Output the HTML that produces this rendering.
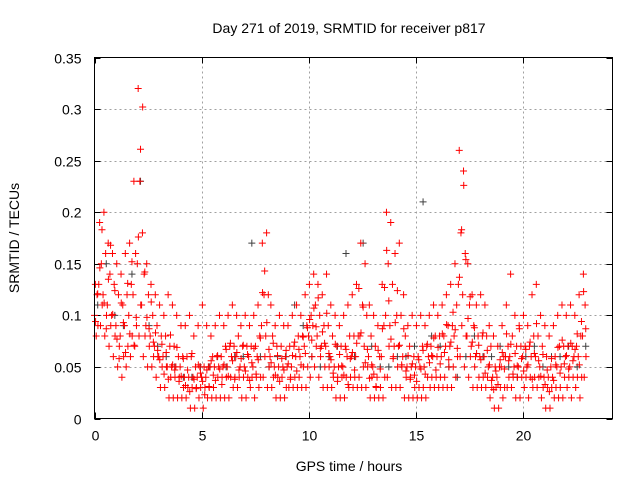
<!DOCTYPE html>
<html><head><meta charset="utf-8"><style>
body{margin:0;background:#fff}
svg{display:block;font-family:"Liberation Sans",sans-serif}
</style></head><body>
<svg id="chart" width="640" height="480">
<text x="349" y="33" text-anchor="middle" font-size="14">Day 271 of 2019, SRMTID for receiver p817</text>
<text x="349" y="471" text-anchor="middle" font-size="14">GPS time / hours</text>
<text transform="translate(19,238) rotate(-90)" text-anchor="middle" font-size="14">SRMTID / TECUs</text>
<g id="grid"></g>
<g id="ticks"></g>
<g id="black"></g>
<g id="red"></g>
<rect x="94.5" y="57.5" width="518" height="361" fill="none" stroke="#000"/>
</svg>
<script>
const xTicks=[0,5,10,15,20];
const yTicks=[0,0.05,0.1,0.15,0.2,0.25,0.3,0.35];
const yTickLabels=["0","0.05","0.1","0.15","0.2","0.25","0.3","0.35"];
// red series: groups every 0.2 h, 5 samples each at 0.04 h spacing
const redStep=0.04;
const redTecu=[
.10,.13,.08,.12,.09, .13,.19,.09,.15,.11, .12,.20,.08,.16,.10, .11,.17,.07,.14,.09, .10,.16,.06,.13,.08,
.09,.15,.05,.12,.07, .08,.14,.04,.11,.06, .09,.16,.05,.12,.07, .10,.17,.06,.13,.08, .12,.23,.07,.16,.09,
.15,.32,.08,.23,.11, .11,.18,.06,.14,.08, .09,.15,.05,.12,.07, .08,.13,.05,.10,.06, .07,.12,.04,.09,.06,
.06,.11,.03,.08,.05, .06,.10,.03,.08,.05, .05,.12,.02,.07,.04, .05,.11,.02,.07,.04, .05,.10,.02,.06,.04,
.05,.09,.02,.06,.03, .04,.09,.02,.06,.03, .04,.10,.01,.06,.03, .04,.08,.01,.05,.03, .04,.09,.02,.05,.03,
.04,.11,.01,.05,.03, .04,.09,.02,.05,.03, .05,.08,.02,.06,.03, .05,.09,.02,.06,.04, .05,.10,.02,.06,.04,
.05,.09,.02,.07,.04, .05,.10,.02,.07,.04, .06,.11,.03,.07,.04, .06,.10,.03,.08,.04, .05,.09,.02,.07,.04,
.05,.10,.02,.07,.04, .06,.09,.03,.07,.04, .05,.10,.02,.07,.04, .06,.11,.03,.08,.04, .09,.17,.04,.12,.06,
.08,.18,.03,.12,.05, .06,.11,.03,.08,.04, .05,.09,.02,.07,.04, .05,.10,.02,.07,.04, .05,.09,.02,.06,.03,
.05,.09,.03,.07,.04, .05,.10,.03,.07,.04, .06,.11,.03,.08,.04, .06,.10,.03,.08,.05, .07,.12,.03,.09,.05,
.08,.13,.04,.10,.06, .09,.14,.05,.11,.07, .08,.13,.04,.10,.06, .07,.12,.03,.09,.05, .07,.14,.03,.09,.05,
.06,.11,.03,.08,.04, .05,.10,.02,.07,.04, .05,.09,.02,.07,.04, .05,.10,.02,.07,.04, .06,.11,.03,.08,.04,
.06,.12,.03,.08,.04, .06,.13,.03,.08,.04, .08,.17,.03,.11,.05, .07,.15,.03,.10,.05, .06,.11,.02,.08,.04,
.05,.10,.02,.07,.03, .04,.09,.02,.06,.03, .06,.13,.02,.09,.04, .10,.20,.04,.15,.07, .09,.19,.03,.13,.06,
.07,.16,.03,.10,.05, .07,.17,.03,.10,.05, .06,.12,.02,.08,.04, .05,.09,.02,.07,.04, .05,.10,.02,.06,.03,
.05,.09,.02,.06,.03, .05,.10,.02,.07,.03, .05,.09,.02,.07,.04, .06,.10,.03,.07,.04, .06,.11,.03,.08,.04,
.06,.10,.03,.08,.04, .06,.11,.03,.08,.04, .07,.12,.03,.09,.05, .07,.13,.03,.09,.05, .08,.15,.04,.11,.06,
.13,.26,.06,.18,.09, .12,.24,.05,.16,.08, .08,.15,.04,.11,.06, .07,.12,.03,.09,.05, .06,.11,.03,.08,.04,
.06,.12,.03,.08,.04, .06,.11,.03,.08,.04, .05,.09,.02,.07,.03, .04,.08,.01,.05,.03, .04,.07,.01,.05,.03,
.05,.09,.02,.06,.03, .06,.11,.03,.07,.04, .06,.14,.03,.08,.04, .05,.10,.02,.07,.04, .05,.09,.02,.07,.04,
.06,.10,.03,.07,.04, .05,.09,.02,.07,.04, .06,.12,.03,.08,.04, .06,.13,.03,.08,.04, .05,.10,.02,.07,.03,
.04,.09,.01,.06,.03, .04,.08,.01,.05,.03, .04,.09,.02,.06,.03, .05,.10,.02,.07,.03, .05,.11,.02,.07,.04,
.06,.10,.03,.07,.04, .05,.11,.02,.07,.04, .06,.10,.03,.07,.04, .06,.12,.02,.08,.04, .08,.14,.04,.11,.06
];
// second red set, every 0.1 h
const redStepB=0.1;
const redTecuB=[
.094,.121,.146,.183,.112,.087,.135,.168,.101,.124,
.077,.058,.112,.093,.064,.131,.082,.152,.071,.098,
.176,.261,.302,.142,.098,.087,.113,.074,.083,.066,
.057,.072,.043,.064,.038,.081,.052,.047,.069,.036,
.041,.058,.032,.047,.026,.063,.038,.029,.052,.044,
.036,.023,.047,.031,.056,.042,.037,.061,.048,.033,
.052,.067,.041,.073,.056,.038,.064,.047,.058,.071,
.046,.062,.037,.054,.068,.043,.057,.078,.122,.143,
.093,.067,.054,.073,.042,.061,.036,.058,.047,.066,
.053,.038,.061,.074,.046,.067,.052,.079,.063,.088,
.096,.076,.107,.089,.117,.068,.084,.073,.102,.063,
.057,.044,.072,.036,.062,.051,.042,.067,.033,.058,
.064,.047,.073,.126,.083,.108,.054,.067,.039,.052,
.043,.031,.066,.048,.087,.127,.163,.114,.077,.058,
.093,.124,.071,.052,.087,.046,.061,.038,.053,.042,
.036,.057,.048,.066,.043,.072,.054,.061,.078,.047,
.069,.053,.082,.064,.091,.057,.074,.103,.086,.068,
.137,.183,.226,.154,.097,.118,.074,.088,.063,.071,
.057,.083,.044,.066,.052,.037,.028,.046,.033,.057,
.064,.048,.082,.056,.072,.043,.063,.051,.087,.058,
.046,.067,.052,.074,.038,.063,.092,.056,.041,.062,
.033,.047,.026,.058,.037,.052,.069,.044,.076,.053,
.061,.048,.073,.056,.067,.082,.052,.094,.123,.087
];
// black series: every 0.4 h
const blackStep=0.4;
const blackTecu=[.11,.15,.10,.09,.14,.23,.09,.07,.06,.05,.04,.04,.05,.05,.06,.05,.06,.06,.17,.06,.05,.06,.06,.11,.09,.06,.05,.06,.07,.16,.06,.17,.07,.05,.05,.06,.06,.07,.21,.08,.07,.05,.04,.06,.08,.06,.06,.07,.05,.04,.06,.07,.05,.06,.06,.07,.05,.07];

const NS="http://www.w3.org/2000/svg";
const X0=94.5,X1=612.5,Y0=418.5,Y1=57.5,XMAX=24.2,YMAX=0.35;
function xs(v){return X0+v/XMAX*(X1-X0);}
function ys(v){return Y0-v/YMAX*(Y0-Y1);}
const grid=document.getElementById('grid'),ticks=document.getElementById('ticks');
function line(p,x1,y1,x2,y2,st,dash){const l=document.createElementNS(NS,'line');l.setAttribute('x1',x1);l.setAttribute('y1',y1);l.setAttribute('x2',x2);l.setAttribute('y2',y2);l.setAttribute('stroke',st);if(dash)l.setAttribute('stroke-dasharray',dash);p.appendChild(l);return l;}
function txt(p,x,y,s,a){const t=document.createElementNS(NS,'text');t.setAttribute('x',x);t.setAttribute('y',y);t.setAttribute('text-anchor',a);t.setAttribute('font-size','14');t.textContent=s;p.appendChild(t);return t;}
xTicks.forEach(v=>{const x=Math.round(xs(v))+0.5;
 if(v>0){const g=line(grid,x,Y0,x,Y1,'#a0a0a0','2,3');}
 line(ticks,x,Y0,x,Y0-6,'#000');line(ticks,x,Y1,x,Y1+6,'#000');
 const t=txt(ticks,x,Y0+22,String(v),'middle');});
yTicks.forEach((v,i)=>{const y=Math.round(ys(v))+0.5;
 if(v>0&&v<YMAX){const g=line(grid,X0,y,X1,y,'#a0a0a0','2,3');}
 line(ticks,X0,y,X0+6,y,'#000');line(ticks,X1,y,X1-6,y,'#000');
 const t=txt(ticks,X0-13,y+5,yTickLabels[i],'end');});
function plus(g,t,v,col){const x=xs(t),y=ys(v);const p=document.createElementNS(NS,'path');
 p.setAttribute('d','M'+(x-3.5)+' '+y+'h7M'+x+' '+(y-3.5)+'v7');p.setAttribute('stroke',col);p.setAttribute('fill','none');
 
 
 g.appendChild(p);}
const bg=document.getElementById('black'),rg=document.getElementById('red');
blackTecu.forEach((v,i)=>plus(bg,0.15+i*blackStep,v,'#404040'));
redTecu.forEach((v,i)=>plus(rg,i*redStep,v,'#ff0000'));
redTecuB.forEach((v,i)=>plus(rg,0.05+i*redStepB,v,'#ff0000'));
</script>
</body></html>
